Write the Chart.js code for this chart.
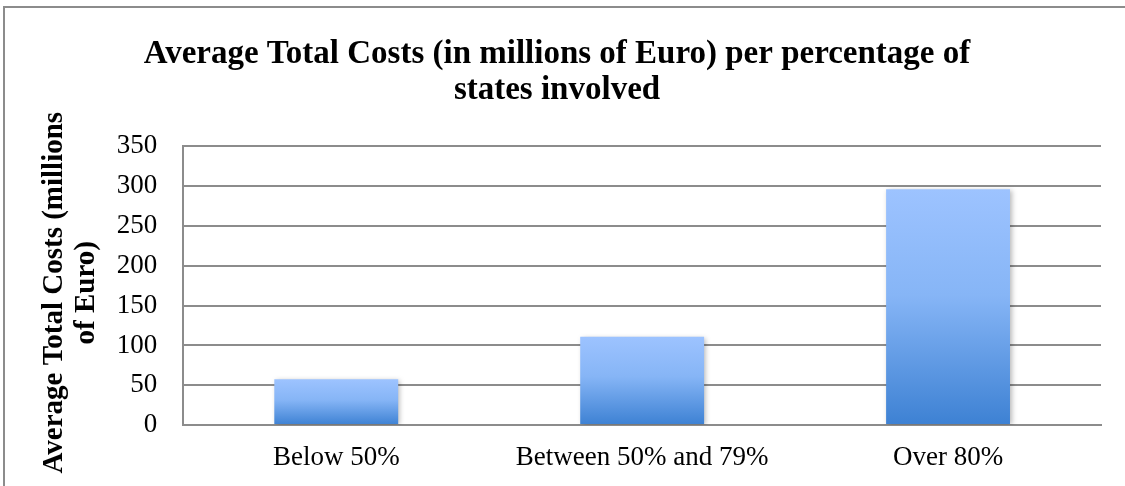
<!DOCTYPE html>
<html>
<head>
<meta charset="utf-8">
<script src="https://cdn.jsdelivr.net/npm/chart.js@4.4.1/dist/chart.umd.min.js"></script>
<style>
  html, body { margin: 0; padding: 0; background: #ffffff; overflow: hidden; }
  #wrap { position: relative; width: 1125px; height: 486px; overflow: hidden; }
  #frame { position: absolute; left: 3px; top: 6px; width: 1300px; height: 700px; border: 2px solid #8c8c8c; box-sizing: border-box; }
  canvas { position: absolute; left: 0; top: 0; }
</style>
</head>
<body>
<div id="wrap">
  <div id="frame"></div>
  <canvas id="c" width="1125" height="500"></canvas>
</div>
<script>
const categories = ["Below 50%", "Between 50% and 79%", "Over 80%"];
const averageTotalCosts = [57.5, 111, 296];
const yTicks = [0, 50, 100, 150, 200, 250, 300, 350];
const chartTitle = ["Average Total Costs (in millions of Euro) per percentage of", "states involved"];
const yAxisTitle = ["Average Total Costs (millions", "of Euro)"];

const FONT = "'Liberation Serif', 'Times New Roman', serif";
const GRID = "#8c8c8c";

function barGradient(context) {
  const chart = context.chart;
  const area = chart.chartArea;
  if (!area || context.type !== 'data') return '#7fb0f0';
  const y = chart.scales.y;
  const top = y.getPixelForValue(context.parsed.y);
  const bottom = y.getPixelForValue(0);
  const g = chart.ctx.createLinearGradient(0, top, 0, bottom);
  g.addColorStop(0, '#9dc3ff');
  g.addColorStop(0.45, '#86b5f6');
  g.addColorStop(1, '#3d81d3');
  return g;
}

const shadowPlugin = {
  id: 'barShadow',
  beforeDatasetsDraw(chart) {
    const ctx = chart.ctx;
    ctx.save();
    ctx.shadowColor = 'rgba(0,0,0,0.28)';
    ctx.shadowBlur = 5;
    ctx.shadowOffsetX = 2;
    ctx.shadowOffsetY = 1;
  },
  afterDatasetsDraw(chart) {
    chart.ctx.restore();
  }
};

// small position adjustments of the chart title and the y-axis title
const titleShift = {
  id: 'titleShift',
  afterLayout(chart) {
    const t = chart.titleBlock;
    if (t) { t.left -= 13; t.right -= 13; }
    const ys = chart.scales.y;
    if (ys && !ys._shiftedTitle) {
      const orig = ys.drawTitle;
      ys.drawTitle = function () {
        const ctx = this.ctx;
        ctx.save();
        ctx.translate(0, 7);
        orig.apply(this, arguments);
        ctx.restore();
      };
      ys._shiftedTitle = true;
    }
  }
};

new Chart(document.getElementById('c'), {
  type: 'bar',
  data: {
    labels: categories,
    datasets: [{
      data: averageTotalCosts,
      backgroundColor: barGradient,
      borderWidth: 0,
      categoryPercentage: 1.0,
      barPercentage: 0.405
    }]
  },
  plugins: [shadowPlugin, titleShift],
  options: {
    responsive: false,
    animation: false,
    devicePixelRatio: 1,
    layout: { padding: { left: 39, right: 24, top: 0, bottom: 8.5 } },
    plugins: {
      legend: { display: false },
      tooltip: { enabled: false },
      title: {
        display: true,
        text: chartTitle,
        color: '#000000',
        font: { family: FONT, size: 33, weight: 'bold', lineHeight: 1.08 },
        padding: { top: 37, bottom: 38 }
      }
    },
    scales: {
      x: {
        grid: { display: false, drawTicks: false },
        border: { display: true, color: GRID, width: 2 },
        ticks: { color: '#000000', font: { family: FONT, size: 27 }, padding: 17, maxRotation: 0 }
      },
      y: {
        min: 0,
        max: 350,
        afterBuildTicks(scale) { scale.ticks = yTicks.map(v => ({ value: v })); },
        grid: { color: GRID, lineWidth: 2, drawTicks: false },
        border: { display: true, color: GRID, width: 2 },
        ticks: { color: '#000000', font: { family: FONT, size: 27 }, padding: 26 },
        title: {
          display: true,
          text: yAxisTitle,
          color: '#000000',
          font: { family: FONT, size: 29, weight: 'bold', lineHeight: 1.1 },
          padding: { top: 0, bottom: -12 }
        }
      }
    }
  }
});
</script>
</body>
</html>
